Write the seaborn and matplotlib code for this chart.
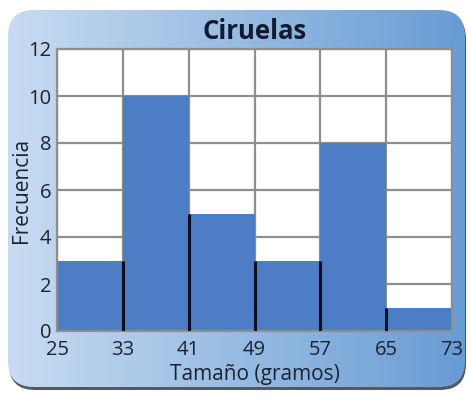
import numpy as np
import pandas as pd
import matplotlib
matplotlib.use("Agg")
import matplotlib.pyplot as plt
from matplotlib.patches import FancyBboxPatch
import seaborn as sns

# Plum sizes (grams) grouped into classes, with their frequencies
bin_edges = [25, 33, 41, 49, 57, 65, 73]
frequencies = [3, 10, 5, 3, 8, 1]
y_ticks = [0, 2, 4, 6, 8, 10, 12]
title = "Ciruelas"
x_label = "Tamaño (gramos)"
y_label = "Frecuencia"

sns.set_style("white")
plt.rcParams["font.family"] = ["Open Sans", "DejaVu Sans"]

W, H = 468, 395
fig = plt.figure(figsize=(W / 100, H / 100), dpi=100, facecolor="white")

# Background card: rounded panel with a horizontal blue gradient and a dark shadow
bg = fig.add_axes([0, 0, 1, 1], zorder=-5)
bg.set_xlim(0, W)
bg.set_ylim(H, 0)
bg.axis("off")
px0, py0, px1, py1 = 8, 10, 465, 387
shadow = FancyBboxPatch((px0 + 1, py0 + 3), px1 - px0, py1 - py0,
                        boxstyle="round,pad=0,rounding_size=26",
                        facecolor="#55585e", edgecolor="none")
bg.add_patch(shadow)
panel = FancyBboxPatch((px0, py0), px1 - px0, py1 - py0,
                       boxstyle="round,pad=0,rounding_size=26",
                       facecolor="none", edgecolor="none")
bg.add_patch(panel)
c_left = np.array([0xc8, 0xdc, 0xf1]) / 255
c_right = np.array([0x68, 0x9c, 0xd4]) / 255
t = np.linspace(0, 1, 256)[None, :, None]
grad = (1 - t) * c_left + t * c_right
grad = np.repeat(grad, 2, axis=0)
im = bg.imshow(grad, extent=(px0, px1, py1, py0), aspect="auto", zorder=1)
im.set_clip_path(panel)

# Histogram panel
ax = fig.add_axes([57 / W, (H - 331) / H, 395 / W, 282 / H])
ax.set_facecolor("white")
mids = [(a + b) / 2 for a, b in zip(bin_edges[:-1], bin_edges[1:])]
df = pd.DataFrame({"tamano": mids, "frecuencia": frequencies})
sns.histplot(data=df, x="tamano", weights="frecuencia", bins=bin_edges,
             color="#4c7dc5", alpha=1, edgecolor="none", linewidth=0,
             ax=ax, zorder=2)

# Dark dividers on the shared edges between neighbouring bars
inner = bin_edges[1:-1]
tops = [min(a, b) for a, b in zip(frequencies[:-1], frequencies[1:])]
ax.vlines(inner, 0, tops, color="#0a0f1e", linewidth=2.2, zorder=3)

ax.set_xlim(bin_edges[0], bin_edges[-1])
ax.set_ylim(0, 12)
ax.set_xticks(bin_edges)
ax.set_yticks(y_ticks)
ax.set_axisbelow(True)
ax.grid(True, color="#8e8e8e", linewidth=1.6)
for s in ax.spines.values():
    s.set_color("#8e8e8e")
    s.set_linewidth(1.6)
ax.tick_params(axis="both", length=4, width=1, color="#8e8e8e",
               labelsize=14.5, labelcolor="#1b2233")
ax.tick_params(axis="x", pad=2.5)
ax.tick_params(axis="y", pad=0)
ax.set_xlabel(x_label, fontsize=15, color="#1b2233", labelpad=3)
ax.set_ylabel(y_label, fontsize=15, color="#1b2233", labelpad=-3)
ax.set_title(title, fontsize=18.5, fontweight="bold", color="#111a2e", pad=7)

fig.savefig("out.png", dpi=100, facecolor="white")
